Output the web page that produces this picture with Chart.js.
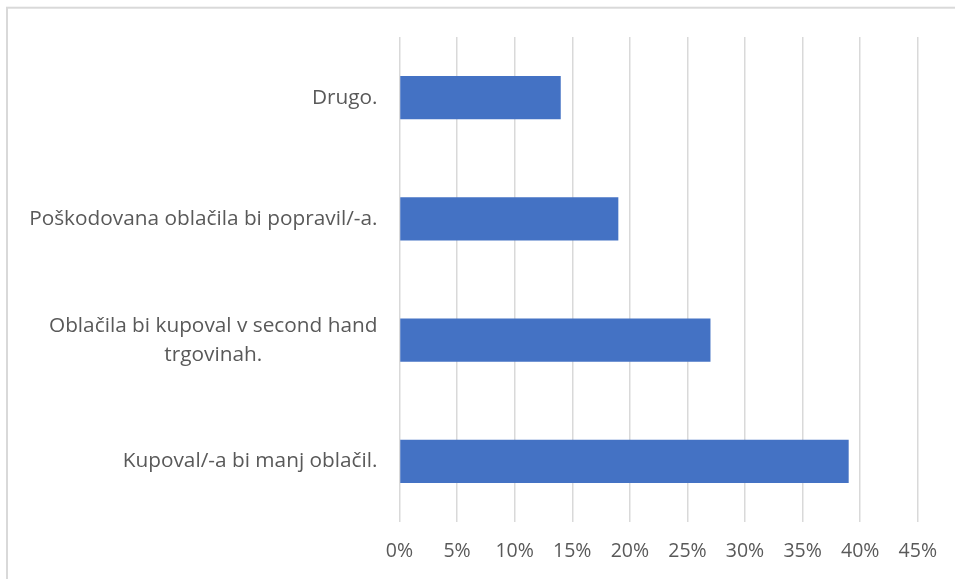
<!DOCTYPE html>
<html>
<head>
<meta charset="utf-8">
<script src="https://cdn.jsdelivr.net/npm/chart.js@4"></script>
<style>
    body { margin: 0; background: #fff; }
    #wrap { position: relative; width: 955px; height: 579px; }
</style>
</head>
<body>
<div id="wrap"><canvas id="barChart"></canvas></div>
<script>
// Chart data
const categories = [
    ['Drugo.'],
    ['Poškodovana oblačila bi popravil/-a.'],
    ['Oblačila bi kupoval v second hand', 'trgovinah.'],
    ['Kupoval/-a bi manj oblačil.']
];
const shares = [14, 19, 27, 39];
const tickValues = [0, 5, 10, 15, 20, 25, 30, 35, 40, 45];

const FONT = '"Open Sans", Lato, sans-serif';
const TEXT_COLOR = '#595959';

// Outer frame of the chart area
const framePlugin = {
    id: 'frame',
    beforeDraw(chart) {
        const ctx = chart.ctx;
        ctx.save();
        ctx.strokeStyle = '#d9d9d9';
        ctx.lineWidth = 2;
        ctx.strokeRect(7, 7.7, 2000, 2000);
        ctx.restore();
    }
};

// Category labels, each block right aligned, lines centred in the block
const categoryLabels = {
    id: 'categoryLabels',
    afterDraw(chart) {
        const ctx = chart.ctx;
        const yScale = chart.scales.y;
        const right = chart.chartArea.left - 22;
        const lineHeight = 29;
        ctx.save();
        ctx.font = '20.8px ' + FONT;
        ctx.fillStyle = TEXT_COLOR;
        ctx.textAlign = 'center';
        ctx.textBaseline = 'middle';
        categories.forEach((lines, i) => {
            const y = yScale.getPixelForTick(i);
            const maxW = Math.max(...lines.map(l => ctx.measureText(l).width));
            const cx = right - maxW / 2;
            const top = y - (lines.length - 1) * lineHeight / 2;
            lines.forEach((l, j) => ctx.fillText(l, cx, top + j * lineHeight));
        });
        ctx.restore();
    }
};

new Chart(document.getElementById('barChart'), {
    type: 'bar',
    data: {
        labels: categories,
        datasets: [{
            data: shares,
            backgroundColor: '#4472c4',
            borderWidth: 0,
            barPercentage: 0.355,
            categoryPercentage: 1
        }]
    },
    options: {
        indexAxis: 'y',
        responsive: true,
        maintainAspectRatio: false,
        animation: false,
        layout: { padding: { top: 37, right: 37, left: 0, bottom: 0 } },
        plugins: {
            legend: { display: false },
            tooltip: { enabled: false }
        },
        scales: {
            x: {
                min: 0,
                max: 45,
                afterBuildTicks(scale) {
                    scale.ticks = tickValues.map(v => ({ value: v }));
                },
                afterFit(scale) { scale.height = 57; },
                grid: { color: '#d9d9d9', lineWidth: 1.5, drawTicks: false },
                border: { display: false },
                ticks: {
                    padding: 18,
                    color: TEXT_COLOR,
                    font: { family: FONT, size: 19.5 },
                    maxRotation: 0,
                    callback: function(value) {
                        return value + '%';
                    }
                }
            },
            y: {
                afterFit(scale) { scale.width = 399.5; },
                grid: { display: false },
                border: { display: false },
                ticks: { display: false }
            }
        }
    },
    plugins: [framePlugin, categoryLabels]
});
</script>
</body>
</html>
